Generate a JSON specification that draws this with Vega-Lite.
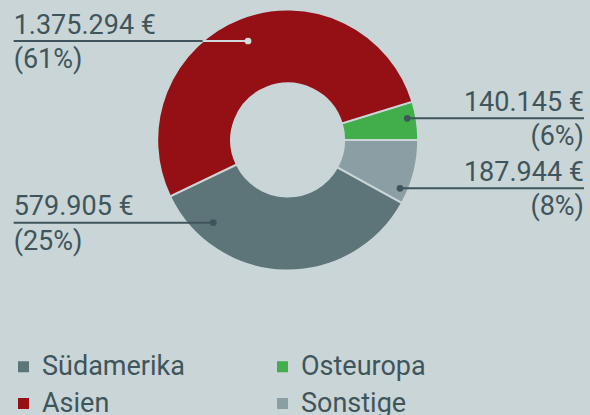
{
  "$schema": "https://vega.github.io/schema/vega-lite/v6.json",
  "width": 590,
  "height": 415,
  "autosize": {"type": "none"},
  "padding": 0,
  "background": "#c9d5d7",
  "config": {
    "view": {"stroke": null},
    "font": "Roboto",
    "locale": {"number": {"decimal": ",", "thousands": ".", "grouping": [3], "currency": ["", " €"]}}
  },
  "data": {
    "values": [
      {"region": "Osteuropa", "ord": 1, "arcDeg": 17.1, "amount": 140145, "pct": 6, "dotX": 0.9165, "lineY": 0.1663, "labelX": 2.2705},
      {"region": "Sonstige", "ord": 2, "arcDeg": 28.9, "amount": 187944, "pct": 8, "dotX": 0.8605, "lineY": -0.3701, "labelX": 2.2705},
      {"region": "Südamerika", "ord": 3, "arcDeg": 125.5, "amount": 579905, "pct": 25, "dotX": -0.5701, "lineY": -0.6337, "labelX": -2.1},
      {"region": "Asien", "ord": 4, "arcDeg": 188.5, "amount": 1375294, "pct": 61, "dotX": -0.304, "lineY": 0.7586, "labelX": -2.1}
    ]
  },
  "transform": [
    {"calculate": "'(' + datum.pct + '%)'", "as": "pctLabel"},
    {"calculate": "(datum.dotX < 0 ? -1 : 1) * sqrt(max(0, 1 - datum.lineY * datum.lineY))", "as": "edgeX"}
  ],
  "layer": [
    {
      "mark": {"type": "arc", "outerRadius": 130.5, "innerRadius": 56.5, "stroke": "#c9d5d7", "strokeWidth": 2},
      "encoding": {
        "x": {"datum": 0, "type": "quantitative", "scale": {"domain": [-2.2046, 2.3165], "nice": false, "zero": false}, "axis": null},
        "y": {"datum": 0, "type": "quantitative", "scale": {"domain": [-2.1073, 1.0728], "nice": false, "zero": false}, "axis": null},
        "theta": {"field": "arcDeg", "type": "quantitative", "stack": true, "scale": {"range": [1.2723, 7.5555]}},
        "order": {"field": "ord", "type": "quantitative"},
        "color": {
          "field": "region",
          "type": "nominal",
          "scale": {"domain": ["Südamerika", "Asien", "Osteuropa", "Sonstige"], "range": ["#5d7478", "#941015", "#41ad4b", "#8a9ea4"]},
          "legend": {
            "orient": "none", "legendX": 10, "legendY": 353, "columns": 2, "title": null,
            "symbolType": "square", "symbolSize": 121, "symbolStrokeWidth": 0, "symbolOpacity": 1,
            "labelFontSize": 27, "labelFont": "Roboto", "labelColor": "#3f555b", "labelOffset": 5,
            "columnPadding": 84, "rowPadding": 9, "padding": 0, "labelLimit": 300
          }
        }
      }
    },
    {
      "mark": {"type": "rule", "color": "#3f555b", "strokeWidth": 2},
      "encoding": {
        "x": {"field": "labelX", "type": "quantitative"},
        "x2": {"field": "dotX"},
        "y": {"field": "lineY", "type": "quantitative"}
      }
    },
    {
      "transform": [{"filter": "datum.region === 'Asien'"}],
      "mark": {"type": "rule", "color": "#cfd9db", "strokeWidth": 2},
      "encoding": {
        "x": {"field": "edgeX", "type": "quantitative"},
        "x2": {"field": "dotX"},
        "y": {"field": "lineY", "type": "quantitative"}
      }
    },
    {
      "mark": {"type": "point", "filled": true, "size": 45, "opacity": 1, "shape": "circle"},
      "encoding": {
        "x": {"field": "dotX", "type": "quantitative"},
        "y": {"field": "lineY", "type": "quantitative"},
        "color": {"condition": {"test": "datum.region === 'Asien'", "value": "#d3dcde"}, "value": "#3f555b"}
      }
    },
    {
      "transform": [{"filter": "datum.labelX < 0"}],
      "mark": {"type": "text", "align": "left", "baseline": "alphabetic", "dy": -7.5, "fontSize": 27, "color": "#3f555b"},
      "encoding": {
        "x": {"field": "labelX", "type": "quantitative"},
        "y": {"field": "lineY", "type": "quantitative"},
        "text": {"field": "amount", "type": "quantitative", "format": "$,.0f"}
      }
    },
    {
      "transform": [{"filter": "datum.labelX < 0"}],
      "mark": {"type": "text", "align": "left", "baseline": "alphabetic", "dy": 27, "fontSize": 27, "color": "#3f555b"},
      "encoding": {
        "x": {"field": "labelX", "type": "quantitative"},
        "y": {"field": "lineY", "type": "quantitative"},
        "text": {"field": "pctLabel", "type": "nominal"}
      }
    },
    {
      "transform": [{"filter": "datum.labelX > 0"}],
      "mark": {"type": "text", "align": "right", "baseline": "alphabetic", "dy": -7.5, "fontSize": 27, "color": "#3f555b"},
      "encoding": {
        "x": {"field": "labelX", "type": "quantitative"},
        "y": {"field": "lineY", "type": "quantitative"},
        "text": {"field": "amount", "type": "quantitative", "format": "$,.0f"}
      }
    },
    {
      "transform": [{"filter": "datum.labelX > 0"}],
      "mark": {"type": "text", "align": "right", "baseline": "alphabetic", "dy": 27, "fontSize": 27, "color": "#3f555b"},
      "encoding": {
        "x": {"field": "labelX", "type": "quantitative"},
        "y": {"field": "lineY", "type": "quantitative"},
        "text": {"field": "pctLabel", "type": "nominal"}
      }
    }
  ]
}
